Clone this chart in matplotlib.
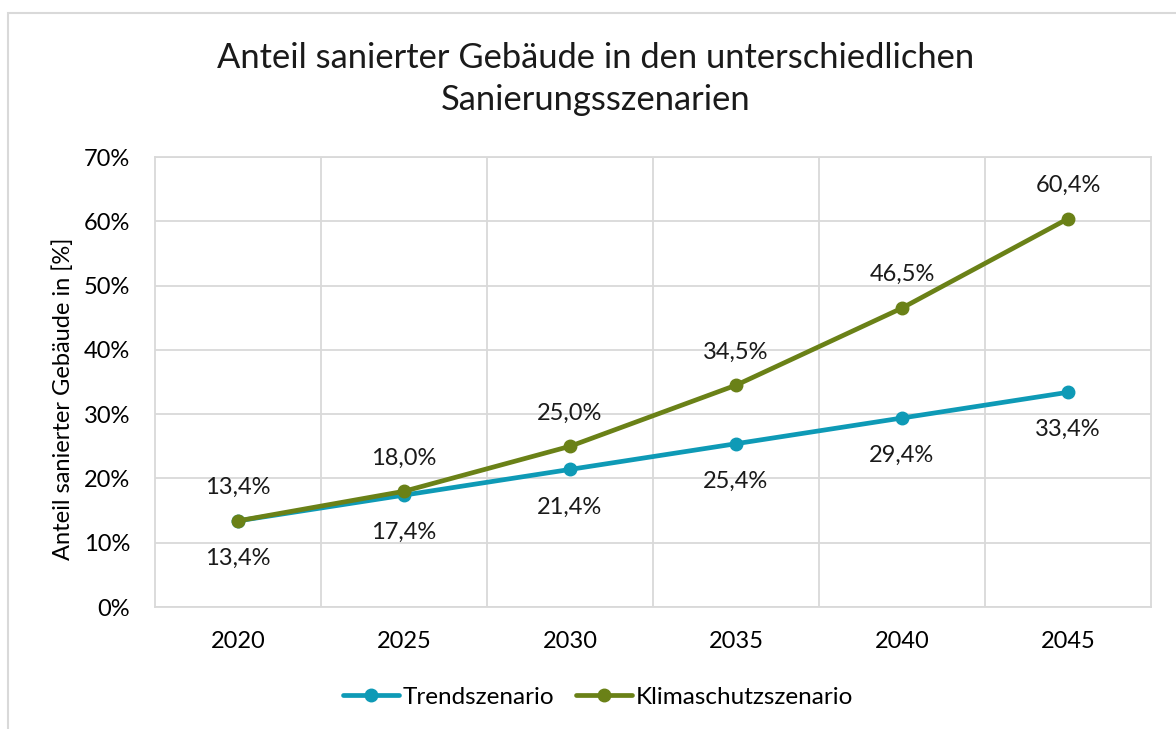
import matplotlib.pyplot as plt
from matplotlib.patches import Rectangle

# Chart data
years = ["2020", "2025", "2030", "2035", "2040", "2045"]
trend = [13.4, 17.4, 21.4, 25.4, 29.4, 33.4]
klima = [13.4, 18.0, 25.0, 34.5, 46.5, 60.4]
yticks = [0, 10, 20, 30, 40, 50, 60, 70]

c_trend = "#0E9AB6"
c_klima = "#6A8117"
grid_c = "#D9D9D9"
fs = 17

plt.rcParams['font.family'] = ['Lato', 'DejaVu Sans']

fig = plt.figure(figsize=(11.76, 7.29), dpi=100)
ax = fig.add_axes([155 / 1176, 1 - 607 / 729, (1151 - 155) / 1176, (607 - 157) / 729])

x = list(range(len(years)))
ax.plot(x, trend, color=c_trend, lw=3.4, marker="o", ms=9, label="Trendszenario",
        solid_capstyle="round", zorder=3)
ax.plot(x, klima, color=c_klima, lw=3.4, marker="o", ms=9, label="Klimaschutzszenario",
        solid_capstyle="round", zorder=4)

def fmt(v):
    return f"{v:.1f}".replace(".", ",") + "%"

for xi, v in zip(x, trend):
    ax.annotate(fmt(v), (xi, v), xytext=(0, -27), textcoords="offset points",
                ha="center", va="center", fontsize=fs, color="#1a1a1a")
for xi, v in zip(x, klima):
    ax.annotate(fmt(v), (xi, v), xytext=(0, 24), textcoords="offset points",
                ha="center", va="center", fontsize=fs, color="#1a1a1a")

ax.set_xlim(-0.5, len(years) - 0.5)
ax.set_ylim(0, 70)
ax.set_yticks(yticks)
ax.set_yticklabels([f"{t}%" for t in yticks], fontsize=fs)
ax.set_xticks(x)
ax.set_xticklabels(years, fontsize=fs)
ax.set_xticks([i + 0.5 for i in x[:-1]], minor=True)
ax.tick_params(which="both", length=0)
ax.tick_params(axis="x", pad=17)
ax.tick_params(axis="y", pad=18)
ax.grid(axis="y", color=grid_c, lw=1.3)
ax.grid(axis="x", which="minor", color=grid_c, lw=1.3)
ax.set_axisbelow(True)
for s in ax.spines.values():
    s.set_color(grid_c)
    s.set_linewidth(1.3)

ax.set_ylabel("Anteil sanierter Gebäude in [%]", fontsize=fs)
ax.yaxis.set_label_coords(-0.0813, 0.462)

fig.text(596 / 1176, 1 - 79 / 729,
         "Anteil sanierter Gebäude in den unterschiedlichen\nSanierungsszenarien",
         ha="center", va="center", fontsize=24.8, linespacing=1.35, color="#1a1a1a")

fig.legend(loc="center", bbox_to_anchor=(598 / 1176, 1 - 697 / 729), ncol=2,
           frameon=False, fontsize=fs + 0.5, handlelength=2.3, columnspacing=0.9,
           handletextpad=0.15)

# outer chart frame (cropped at right and bottom)
fig.patches.append(Rectangle((8 / 1176, -0.1), 2, 1.1 - 13 / 729,
                             transform=fig.transFigure, fill=False,
                             edgecolor=grid_c, lw=1.5))

fig.savefig("out.png", dpi=100)
